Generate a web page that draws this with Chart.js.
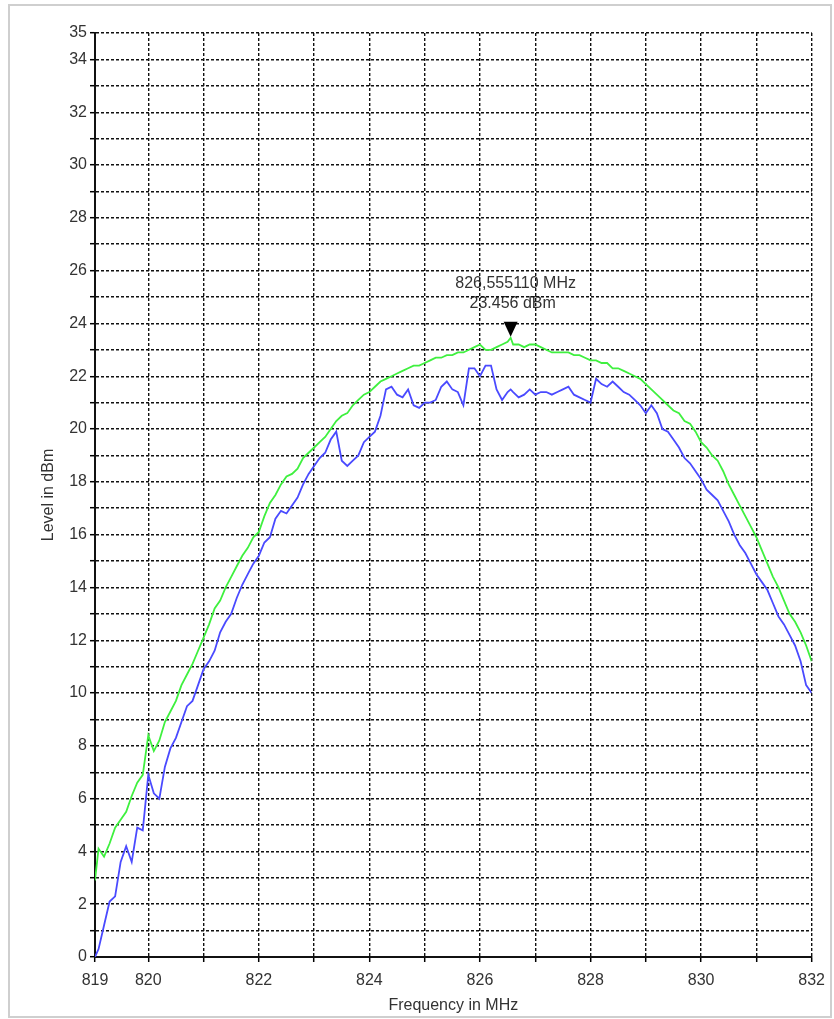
<!DOCTYPE html>
<html>
<head>
<meta charset="utf-8">
<script src="https://cdn.jsdelivr.net/npm/chart.js@4.4.0/dist/chart.umd.min.js"></script>
<style>
  html, body { margin: 0; padding: 0; background: #fff; }
  #wrap { position: relative; width: 834px; height: 1019px; }
  #frame { position: absolute; left: 8px; top: 4px; width: 820px; height: 1010px; border: 2px solid #cfcfcf; pointer-events: none; }
  canvas { position: absolute; left: 0; top: 0; }
</style>
</head>
<body>
<div id="wrap">
  <canvas id="chart-spectrum" width="834" height="1019"></canvas>
  <div id="frame"></div>
</div>
<script>
// frequency points (MHz)
const freqMHz = [
  819.036, 819.1, 819.2, 819.3, 819.4, 819.5, 819.6, 819.7, 819.8, 819.9,
  820.0, 820.1, 820.2, 820.3, 820.4, 820.5, 820.6, 820.7, 820.8, 820.9,
  821.0, 821.1, 821.2, 821.3, 821.4, 821.5, 821.6, 821.7, 821.8, 821.9,
  822.0, 822.1, 822.2, 822.3, 822.4, 822.5, 822.6, 822.7, 822.8, 822.9,
  823.0, 823.1, 823.2, 823.3, 823.4, 823.5, 823.6, 823.7, 823.8, 823.9,
  824.0, 824.1, 824.2, 824.3, 824.4, 824.5, 824.6, 824.7, 824.8, 824.9,
  825.0, 825.1, 825.2, 825.3, 825.4, 825.5, 825.6, 825.7, 825.8, 825.9,
  826.0, 826.1, 826.2, 826.3, 826.4, 826.5, 826.555, 826.6, 826.7, 826.8, 826.9,
  827.0, 827.1, 827.2, 827.3, 827.4, 827.5, 827.6, 827.7, 827.8, 827.9,
  828.0, 828.1, 828.2, 828.3, 828.4, 828.5, 828.6, 828.7, 828.8, 828.9,
  829.0, 829.1, 829.2, 829.3, 829.4, 829.5, 829.6, 829.7, 829.8, 829.9,
  830.0, 830.1, 830.2, 830.3, 830.4, 830.5, 830.6, 830.7, 830.8, 830.9,
  831.0, 831.1, 831.2, 831.3, 831.4, 831.5, 831.6, 831.7, 831.8, 831.9,
  832.0
];

// max hold trace (green), dBm
const greenDbm = [
  2.9, 4.1, 3.8, 4.3, 4.9, 5.2, 5.5, 6.1, 6.6, 6.9,
  8.4, 7.8, 8.2, 8.9, 9.3, 9.7, 10.3, 10.7, 11.1, 11.6,
  12.1, 12.6, 13.2, 13.5, 14.0, 14.4, 14.8, 15.2, 15.5, 15.9,
  16.1, 16.7, 17.2, 17.5, 17.9, 18.2, 18.3, 18.5, 18.9, 19.1,
  19.3, 19.5, 19.7, 20.0, 20.3, 20.5, 20.6, 20.9, 21.1, 21.3,
  21.4, 21.6, 21.8, 21.9, 22.0, 22.1, 22.2, 22.3, 22.4, 22.4,
  22.5, 22.6, 22.7, 22.7, 22.8, 22.8, 22.9, 22.9, 23.0, 23.1,
  23.2, 23.0, 23.0, 23.1, 23.2, 23.3, 23.456, 23.2, 23.2, 23.1, 23.2,
  23.2, 23.1, 23.0, 22.9, 22.9, 22.9, 22.9, 22.8, 22.8, 22.7,
  22.6, 22.6, 22.5, 22.5, 22.3, 22.3, 22.2, 22.1, 22.0, 21.9,
  21.7, 21.5, 21.3, 21.1, 20.9, 20.7, 20.6, 20.3, 20.2, 19.9,
  19.5, 19.3, 19.0, 18.8, 18.4, 17.9, 17.5, 17.1, 16.7, 16.3,
  15.9, 15.4, 14.9, 14.4, 14.0, 13.5, 13.0, 12.7, 12.3, 11.8,
  11.2
];

// clear/write trace (blue), dBm
const blueDbm = [
  0.0, 0.3, 1.2, 2.1, 2.3, 3.6, 4.2, 3.6, 4.9, 4.8,
  6.9, 6.2, 6.0, 7.2, 7.9, 8.3, 8.9, 9.5, 9.7, 10.3,
  10.9, 11.2, 11.6, 12.3, 12.7, 13.0, 13.6, 14.1, 14.5, 14.9,
  15.2, 15.7, 15.9, 16.6, 16.9, 16.8, 17.1, 17.4, 17.9, 18.3,
  18.6, 18.9, 19.1, 19.6, 19.9, 18.8, 18.6, 18.8, 19.0, 19.5,
  19.7, 19.9, 20.5, 21.5, 21.6, 21.3, 21.2, 21.5, 20.9, 20.8,
  21.0, 21.0, 21.1, 21.6, 21.8, 21.5, 21.4, 20.9, 22.3, 22.3,
  22.0, 22.4, 22.4, 21.5, 21.1, 21.4, 21.5, 21.4, 21.2, 21.3, 21.5,
  21.3, 21.4, 21.4, 21.3, 21.4, 21.5, 21.6, 21.3, 21.2, 21.1,
  21.0, 21.9, 21.7, 21.6, 21.8, 21.6, 21.4, 21.3, 21.1, 20.9,
  20.6, 20.9, 20.6, 20.0, 19.9, 19.6, 19.3, 18.9, 18.7, 18.4,
  18.1, 17.7, 17.5, 17.3, 16.9, 16.5, 16.0, 15.6, 15.3, 14.9,
  14.5, 14.2, 13.9, 13.4, 12.9, 12.6, 12.2, 11.8, 11.2, 10.3,
  10.0
];

const xTickValues = [819.036, 820, 821, 822, 823, 824, 825, 826, 827, 828, 829, 830, 831, 832];
const xTickLabels = ['819', '820', '', '822', '', '824', '', '826', '', '828', '', '830', '', '832'];
const yTickLabels = [0, 2, 4, 6, 8, 10, 12, 14, 16, 18, 20, 22, 24, 26, 28, 30, 32, 34, 35];

const markerFreq = 826.555;
const markerLevel = 23.456;
const markerText = ['826,555110 MHz', '23.456 dBm'];

const COLORS = {
  green: '#3ff03f',
  blue: '#4a4aff',
  grid: '#111111',
  text: '#333333'
};

const FONT = '"Liberation Sans", Arial, sans-serif';
Chart.defaults.font.family = FONT;
Chart.defaults.font.size = 16;
Chart.defaults.color = COLORS.text;

const markerPlugin = {
  id: 'marker',
  beforeDraw(chart) {
    // label goes under the grid, like the original
    const ctx = chart.ctx;
    const px = chart.scales.x.getPixelForValue(markerFreq);
    const py = chart.scales.y.getPixelForValue(markerLevel);
    ctx.save();
    ctx.fillStyle = COLORS.text;
    ctx.font = '16px ' + FONT;
    ctx.textAlign = 'center';
    ctx.textBaseline = 'middle';
    ctx.fillText(markerText[0], px + 5, py - 54);
    ctx.fillText(markerText[1], px + 2, py - 34);
    ctx.restore();
  },
  afterDatasetsDraw(chart) {
    const ctx = chart.ctx;
    const px = chart.scales.x.getPixelForValue(markerFreq);
    const py = chart.scales.y.getPixelForValue(markerLevel);
    ctx.save();
    ctx.fillStyle = '#000';
    ctx.beginPath();
    ctx.moveTo(px - 7, py - 16);
    ctx.lineTo(px + 7, py - 16);
    ctx.lineTo(px, py - 1);
    ctx.closePath();
    ctx.fill();
    ctx.restore();
  }
};

new Chart(document.getElementById('chart-spectrum'), {
  type: 'line',
  data: {
    datasets: [
      {
        label: 'Max Hold',
        data: freqMHz.map((f, i) => ({ x: f, y: greenDbm[i] })),
        borderColor: COLORS.green,
        borderWidth: 1.8,
        pointRadius: 0,
        tension: 0
      },
      {
        label: 'Clear Write',
        data: freqMHz.map((f, i) => ({ x: f, y: blueDbm[i] })),
        borderColor: COLORS.blue,
        borderWidth: 1.8,
        pointRadius: 0,
        tension: 0
      }
    ]
  },
  options: {
    responsive: false,
    animation: false,
    layout: { padding: { left: 0, top: 33, right: 22, bottom: 0 } },
    plugins: { legend: { display: false }, tooltip: { enabled: false } },
    scales: {
      x: {
        type: 'linear',
        min: 819.036,
        max: 832,
        afterBuildTicks: s => { s.ticks = xTickValues.map(v => ({ value: v })); },
        afterFit: s => { s.height = 62; },
        ticks: {
          autoSkip: false,
          maxRotation: 0,
          padding: 9,
          callback: (v, i) => xTickLabels[i]
        },
        grid: { color: COLORS.grid, lineWidth: 1.4, tickLength: 5, tickColor: '#000', tickWidth: 1.5 },
        border: { color: '#111', width: 2, dash: [3, 2] },
        title: { display: true, text: 'Frequency in MHz', font: { size: 16 }, padding: { top: 0, bottom: 4 } }
      },
      y: {
        min: 0,
        max: 35,
        afterFit: s => { s.width = 95; },
        ticks: {
          stepSize: 1,
          autoSkip: false,
          padding: 3,
          callback: v => yTickLabels.includes(v) ? v : ''
        },
        grid: { color: COLORS.grid, lineWidth: 1.4, tickLength: 5, tickColor: '#000', tickWidth: 1.5 },
        border: { color: '#111', width: 2, dash: [3, 2] },
        title: { display: true, text: 'Level in dBm', font: { size: 16 }, padding: { top: 39, bottom: 0 } }
      }
    }
  },
  plugins: [markerPlugin]
});
</script>
</body>
</html>
